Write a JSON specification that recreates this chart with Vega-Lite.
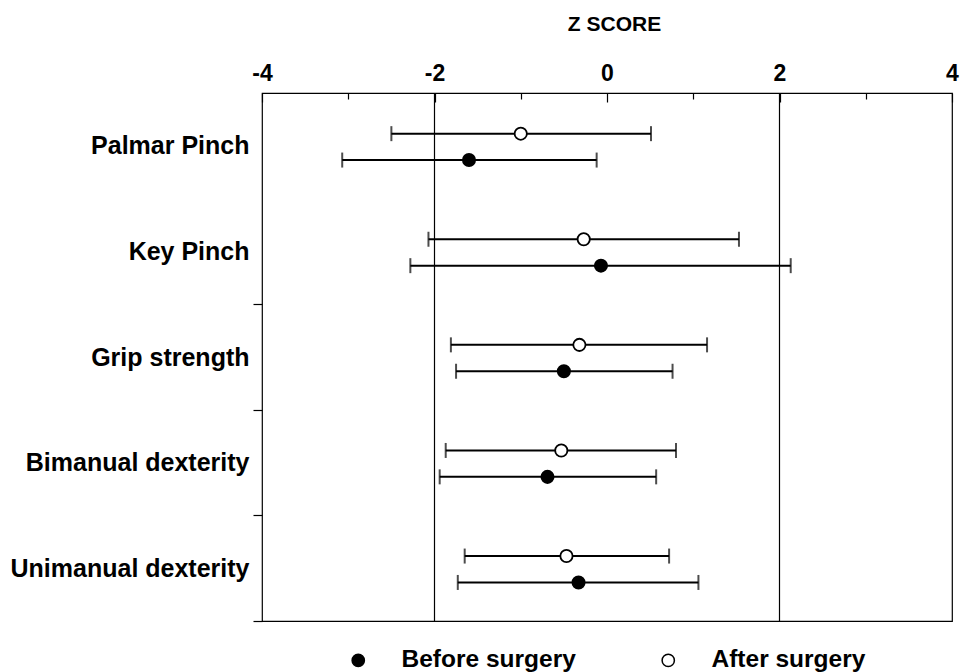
{
  "$schema": "https://vega.github.io/schema/vega-lite/v6.json",
  "width": 690,
  "height": 528,
  "autosize": "none",
  "padding": {"left": 262, "top": 93, "right": 9, "bottom": 51},
  "background": "white",
  "datasets": {
    "scores": [
      {"measure": "Palmar Pinch", "group": "After surgery", "z": -1.0, "lo": -2.50, "hi": 0.51},
      {"measure": "Palmar Pinch", "group": "Before surgery", "z": -1.60, "lo": -3.07, "hi": -0.12},
      {"measure": "Key Pinch", "group": "After surgery", "z": -0.27, "lo": -2.07, "hi": 1.53},
      {"measure": "Key Pinch", "group": "Before surgery", "z": -0.07, "lo": -2.28, "hi": 2.13},
      {"measure": "Grip strength", "group": "After surgery", "z": -0.32, "lo": -1.81, "hi": 1.16},
      {"measure": "Grip strength", "group": "Before surgery", "z": -0.50, "lo": -1.75, "hi": 0.76},
      {"measure": "Bimanual dexterity", "group": "After surgery", "z": -0.53, "lo": -1.87, "hi": 0.80},
      {"measure": "Bimanual dexterity", "group": "Before surgery", "z": -0.69, "lo": -1.94, "hi": 0.57},
      {"measure": "Unimanual dexterity", "group": "After surgery", "z": -0.47, "lo": -1.65, "hi": 0.72},
      {"measure": "Unimanual dexterity", "group": "Before surgery", "z": -0.33, "lo": -1.73, "hi": 1.06}
    ],
    "refs": [{"ref": -2}, {"ref": 2}]
  },
  "layer": [
    {
      "data": {"name": "refs"},
      "mark": {"type": "rule", "color": "black", "strokeWidth": 1.2},
      "encoding": {
        "x": {"field": "ref", "type": "quantitative", "scale": {"domain": [-4, 4], "nice": false, "zero": false}}
      }
    },
    {
      "data": {"name": "scores"},
      "encoding": {
        "y": {
          "field": "measure", "type": "nominal",
          "sort": ["Palmar Pinch", "Key Pinch", "Grip strength", "Bimanual dexterity", "Unimanual dexterity"],
          "scale": {"paddingInner": 0, "paddingOuter": 0},
          "axis": {
            "title": null,
            "orient": "left",
            "domain": false,
            "labelFont": "Liberation Sans",
            "labelFontWeight": "bold",
            "labelFontSize": 25,
            "labelColor": "black",
            "labelPadding": 4,
            "labelLimit": 400,
            "tickBand": "extent",
            "tickSize": 9,
            "tickColor": "black",
            "tickWidth": 1.2,
            "tickOpacity": {"condition": {"test": "datum.extra || datum.value === 'Palmar Pinch'", "value": 0}, "value": 1}
          }
        },
        "yOffset": {
          "field": "group", "type": "nominal",
          "sort": ["After surgery", "Before surgery"],
          "scale": {"paddingInner": 0, "paddingOuter": 1.4, "align": 0.52}
        },
        "x": {
          "field": "z", "type": "quantitative",
          "scale": {"domain": [-4, 4], "nice": false, "zero": false},
          "axis": {
            "orient": "top",
            "title": "Z SCORE",
            "titleFont": "Liberation Sans",
            "titleFontWeight": "bold",
            "titleFontSize": 21,
            "titleColor": "black",
            "titleX": 352,
            "titleY": -63,
            "titleBaseline": "alphabetic",
            "titleAlign": "center",
            "values": [-4, -3, -2, -1, 0, 1, 2, 3, 4],
            "labelExpr": "datum.value % 2 === 0 ? (datum.value < 0 ? '-' + abs(datum.value) : '' + datum.value) : ''",
            "labelFont": "Liberation Sans",
            "labelFontWeight": "bold",
            "labelFontSize": 23,
            "labelColor": "black",
            "labelBaseline": "alphabetic",
            "labelPadding": 22,
            "labelFlush": false,
            "labelOverlap": false,
            "labelBound": false,
            "domain": false,
            "grid": false,
            "tickColor": "black",
            "tickWidth": 1.2,
            "tickSize": {"condition": {"test": "datum.value % 2 === 0", "value": -9}, "value": -6}
          }
        }
      },
      "layer": [
        {
          "mark": {"type": "rule", "color": "black", "strokeWidth": 2},
          "encoding": {"x": {"field": "lo", "type": "quantitative"}, "x2": {"field": "hi"}}
        },
        {
          "mark": {"type": "tick", "color": "black", "size": 15, "thickness": 2},
          "encoding": {"x": {"field": "lo", "type": "quantitative"}}
        },
        {
          "mark": {"type": "tick", "color": "black", "size": 15, "thickness": 2},
          "encoding": {"x": {"field": "hi", "type": "quantitative"}}
        },
        {
          "mark": {"type": "point", "shape": "circle", "filled": true, "size": 150, "stroke": "black", "strokeWidth": 1.8, "opacity": 1},
          "encoding": {
            "fill": {
              "field": "group", "type": "nominal",
              "scale": {"domain": ["Before surgery", "After surgery"], "range": ["black", "white"]},
              "legend": {
                "title": null,
                "orient": "none",
                "direction": "horizontal",
                "legendX": 84,
                "legendY": 555,
                "padding": 0,
                "symbolType": "circle",
                "symbolSize": 150,
                "symbolStrokeColor": "black",
                "symbolStrokeWidth": 1.5,
                "symbolOpacity": 1,
                "labelFont": "Liberation Sans",
                "labelFontWeight": "bold",
                "labelFontSize": 24.5,
                "labelColor": "black",
                "labelOffset": 31,
                "labelLimit": 400,
                "columnPadding": 80
              }
            }
          }
        }
      ]
    }
  ],
  "config": {
    "view": {"stroke": "black", "strokeWidth": 1.2}
  }
}
